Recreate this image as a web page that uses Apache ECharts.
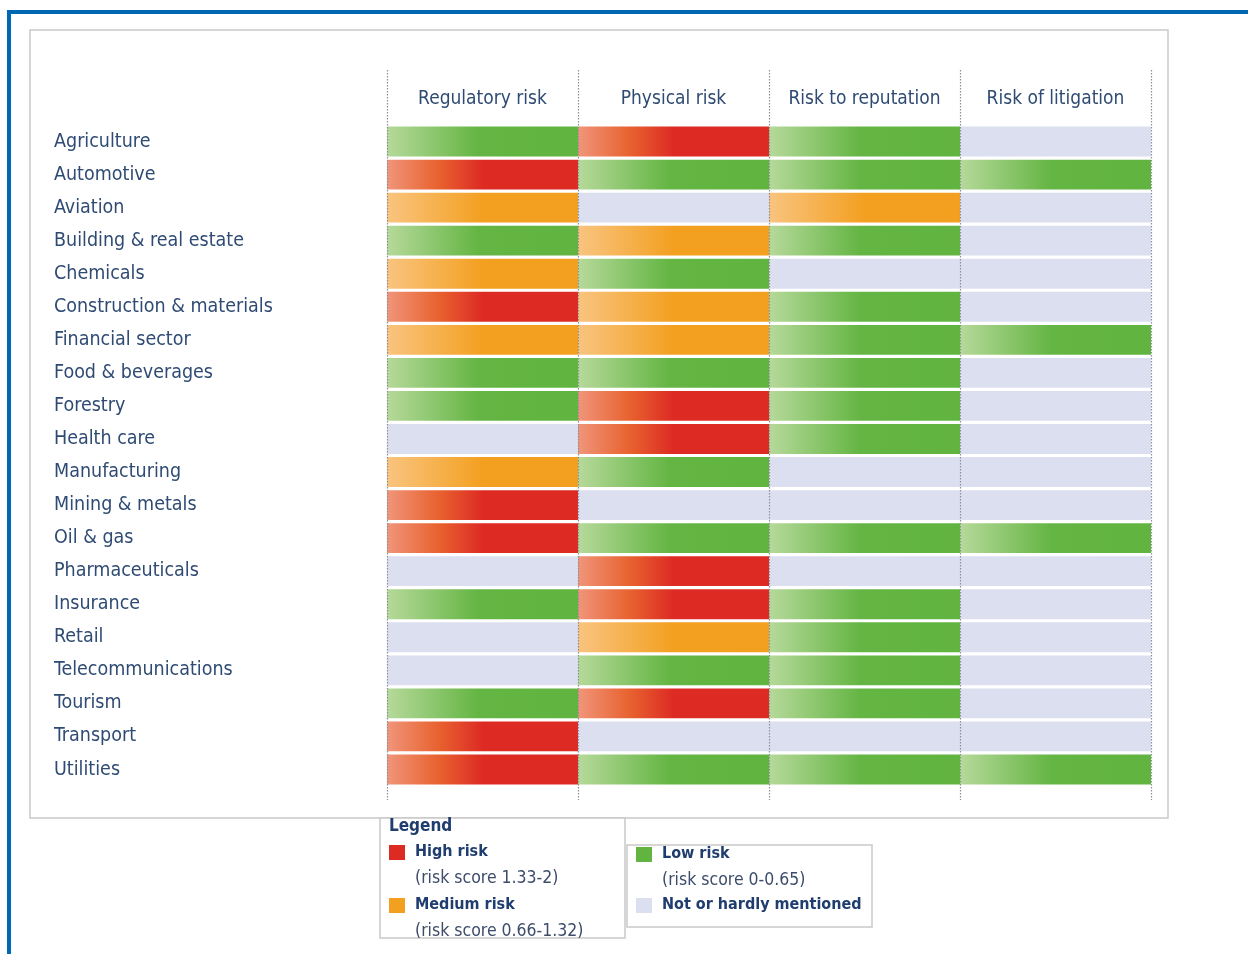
<!DOCTYPE html>
<html>
<head>
<meta charset="utf-8">
<script src="https://cdn.jsdelivr.net/npm/echarts@6/dist/echarts.min.js"></script>
<style>
html,body{margin:0;padding:0;background:#fff;}
#chart{width:1248px;height:954px;}
</style>
</head>
<body>
<div id="chart"></div>
<script>
// ---- data ----
var sectors = ['Agriculture','Automotive','Aviation','Building & real estate','Chemicals',
  'Construction & materials','Financial sector','Food & beverages','Forestry','Health care',
  'Manufacturing','Mining & metals','Oil & gas','Pharmaceuticals','Insurance','Retail',
  'Telecommunications','Tourism','Transport','Utilities'];
var riskTypes = ['Regulatory risk','Physical risk','Risk to reputation','Risk of litigation'];
// levels: 'high','medium','low','none'
var regulatory = ['low','high','medium','low','medium','high','medium','low','low','none',
  'medium','high','high','none','low','none','none','low','high','high'];
var physical = ['high','low','none','medium','low','medium','medium','low','high','high',
  'low','none','low','high','high','medium','low','high','none','low'];
var reputation = ['low','low','medium','low','none','low','low','low','low','low',
  'none','none','low','none','low','low','low','low','none','low'];
var litigation = ['none','low','none','none','none','none','low','none','none','none',
  'none','none','low','none','none','none','none','none','none','low'];
var legendTitle = 'Legend';
var legendNames = ['High risk','Medium risk','Low risk','Not or hardly mentioned'];
var legendNotes = ['(risk score 1.33-2)','(risk score 0.66-1.32)','(risk score 0-0.65)',''];

var columns = [regulatory, physical, reputation, litigation];
var cells = [];
columns.forEach(function (col, c) {
  col.forEach(function (lv, r) { cells.push([c, r, lv]); });
});
var boundaries = [0, 1, 2, 3, 4];

var G = echarts.graphic;
function fillFor(lv) {
  if (lv === 'high') return new G.LinearGradient(0,0,1,0,[
    {offset:0,color:'#f0957a'},{offset:0.27,color:'#e8622f'},{offset:0.5,color:'#dd2b24'},{offset:1,color:'#dd2b24'}]);
  if (lv === 'medium') return new G.LinearGradient(0,0,1,0,[
    {offset:0,color:'#f9c47f'},{offset:0.5,color:'#f3a021'},{offset:1,color:'#f3a021'}]);
  if (lv === 'low') return new G.LinearGradient(0,0,1,0,[
    {offset:0,color:'#b6d99a'},{offset:0.48,color:'#64b543'},{offset:1,color:'#61b43f'}]);
  return '#dcdff0';
}
var FONT = '"DejaVu Sans Condensed","DejaVu Sans",sans-serif';
var navy = '#1f3d6e';
var swatch = ['#dd2b24','#f3a021','#61b43f','#dcdff0'];

var chart = echarts.init(document.getElementById('chart'));
var graphics = [
  {type:'rect', shape:{x:9, y:12, width:1260, height:960}, style:{fill:'none', stroke:'#0068b3', lineWidth:4}, z:0},
  {type:'rect', shape:{x:30, y:30, width:1138, height:788}, style:{fill:'none', stroke:'#c9c9c9', lineWidth:1.5}, z:0},
  {type:'rect', shape:{x:380, y:818, width:245, height:120}, style:{fill:'#fff', stroke:'#c9c9c9', lineWidth:1.5}, z:1},
  {type:'rect', shape:{x:627, y:845, width:245, height:82}, style:{fill:'#fff', stroke:'#c9c9c9', lineWidth:1.5}, z:1},
  {type:'text', x:389, y:827, style:{text:legendTitle, font:'bold 17px '+FONT, fill:navy, verticalAlign:'middle'}, z:2}
];
var legPos = [[389,852],[389,905],[636,854],[636,905]];
legendNames.forEach(function (nm, i) {
  var p = legPos[i];
  graphics.push({type:'rect', shape:{x:p[0], y:p[1]-7, width:16, height:15}, style:{fill:swatch[i]}, z:2});
  graphics.push({type:'text', x:p[0]+26, y:p[1], style:{text:nm, font:'bold 16px '+FONT, fill:navy, verticalAlign:'middle'}, z:2});
  if (legendNotes[i]) graphics.push({type:'text', x:p[0]+26, y:p[1]+26, style:{text:legendNotes[i], font:'17.5px '+FONT, fill:'#3c4c6a', verticalAlign:'middle'}, z:2});
});

chart.setOption({
  animation:false,
  backgroundColor:'#fff',
  grid:{left:387, right:97, top:125, bottom:168},
  xAxis:{type:'category', data:riskTypes, position:'top',
    axisLine:{show:false}, axisTick:{show:false}, splitLine:{show:false},
    axisLabel:{interval:0, color:'#2f4b73', fontSize:19, fontFamily:FONT, margin:16}},
  yAxis:{type:'category', data:sectors, inverse:true,
    axisLine:{show:false}, axisTick:{show:false}, splitLine:{show:false},
    axisLabel:{interval:0, color:'#2f4b73', fontSize:19.5, fontFamily:FONT, align:'left', margin:333, padding:[0,0,9,0]}},
  graphic:graphics,
  series:[
    {type:'custom', data:cells, encode:{x:0, y:1},
      renderItem:function (params, api) {
        var c = api.coord([api.value(0), api.value(1)]);
        var sz = api.size([1,1]);
        var h = sz[1] - 3.2;
        return {type:'rect', shape:{x:c[0]-sz[0]/2, y:c[1]-h/2, width:sz[0], height:h},
          style:{fill:fillFor(cells[params.dataIndex][2])}};
      }, z:2},
    {type:'custom', data:boundaries, encode:{x:0},
      renderItem:function (params, api) {
        var sz = api.size([1,1]);
        var c0 = api.coord([0, 0]);
        var cl = api.coord([0, sectors.length-1]);
        var x = Math.round(c0[0] - sz[0]/2 + api.value(0)*sz[0]) + 0.5;
        return {type:'line', shape:{x1:x, y1:c0[1]-sz[1]/2-55, x2:x, y2:cl[1]+sz[1]/2+14},
          style:{stroke:'#8a8f99', lineWidth:1.2, lineDash:[1.5,1.5]}};
      }, z:3}
  ]
});
</script>
</body>
</html>
